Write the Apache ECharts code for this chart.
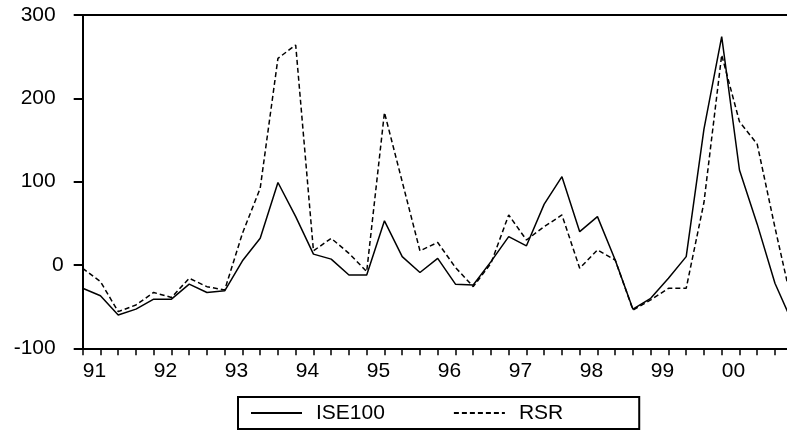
<!DOCTYPE html>
<html>
<head>
<meta charset="utf-8">
<script src="https://cdn.jsdelivr.net/npm/echarts@6/dist/echarts.min.js"></script>
<style>
  html, body { margin: 0; padding: 0; background: #fff; }
  #chart { width: 787px; height: 431px; }
</style>
</head>
<body>
<div id="chart"></div>
<script>
// quarterly, 1991Q1 .. 2001Q1 (the last one is cut off by the right edge)
var years = ['1991', '1992', '1993', '1994', '1995', '1996', '1997', '1998', '1999', '2000', '2001'];
var quarters = [];
years.forEach(function (y) {
  ['Q1', 'Q2', 'Q3', 'Q4'].forEach(function (q) { quarters.push(y + q); });
});
quarters = quarters.slice(0, 41);

var ise100 = [-28, -37, -60, -53, -41, -41, -23, -33, -31, 5, 32, 99, 58, 13, 7, -12,
  -12, 53, 10, -9, 8, -23, -24, 4, 34, 23, 73, 106, 40, 58, 6, -53,
  -40, -16, 10, 163, 274, 114, 49, -22, -70];
var rsr = [-4, -20, -56, -48, -33, -39, -16, -26, -30, 38, 92, 248, 264, 17, 32, 14,
  -8, 183, 100, 17, 27, -3, -26, 2, 60, 30, 46, 60, -4, 18, 6, -54,
  -42, -28, -28, 75, 252, 172, 145, 45, -50];

var yTicks = [-100, 0, 100, 200, 300];

var font = 'Liberation Sans';
var chart = echarts.init(document.getElementById('chart'));

chart.setOption({
  backgroundColor: '#fff',
  animation: false,
  textStyle: { fontFamily: font, color: '#000' },
  // plot runs past the right edge, like the cropped original
  grid: { left: 82.7, top: 15, width: 710, height: 333.3, outerBoundsMode: 'none' },
  legend: {
    left: 238,
    top: 397,
    orient: 'horizontal',
    padding: [4, 76, 4, 12],
    itemGap: 68,
    itemWidth: 51,
    itemHeight: 20,
    itemStyle: { opacity: 0 },
    borderColor: '#000',
    borderWidth: 2,
    borderRadius: 0,
    textStyle: { fontSize: 21, fontFamily: font, color: '#000', padding: [3, 0, 0, 9], lineHeight: 21 },
    data: ['ISE100', 'RSR']
  },
  xAxis: [{
    type: 'category',
    data: quarters,
    boundaryGap: false,
    axisLine: { onZero: false, lineStyle: { color: '#000', width: 2 } },
    axisTick: { show: true, interval: 0, length: 7, lineStyle: { color: '#000', width: 1.5 } },
    axisLabel: {
      interval: function (i) { return i % 4 === 0; },
      formatter: function (v) { return v.slice(2, 4); },
      align: 'left',
      margin: 12,
      fontSize: 21,
      fontFamily: font,
      color: '#000'
    },
    splitLine: { show: false }
  }, {
    type: 'category',
    data: quarters,
    position: 'top',
    boundaryGap: false,
    axisLine: { onZero: false, lineStyle: { color: '#000', width: 2 } },
    axisTick: { show: false },
    axisLabel: { show: false },
    splitLine: { show: false }
  }],
  yAxis: {
    type: 'value',
    min: yTicks[0],
    max: yTicks[yTicks.length - 1],
    interval: 100,
    axisLine: { show: true, lineStyle: { color: '#000', width: 2 } },
    axisTick: { show: true, length: 9, lineStyle: { color: '#000', width: 2 } },
    axisLabel: {
      margin: 19,
      fontSize: 21,
      fontFamily: font,
      color: '#000',
      formatter: function (v) { return v === 0 ? '0' : v + '{s| }'; },
      rich: { s: { width: 8 } }
    },
    splitLine: { show: false }
  },
  series: [{
    name: 'ISE100',
    type: 'line',
    data: ise100,
    symbol: 'none',
    lineStyle: { color: '#000', width: 1.5, type: 'solid' },
    itemStyle: { color: '#000' }
  }, {
    name: 'RSR',
    type: 'line',
    data: rsr,
    symbol: 'none',
    lineStyle: { color: '#000', width: 1.5, type: [5, 3] },
    itemStyle: { color: '#000' }
  }]
});
</script>
</body>
</html>
